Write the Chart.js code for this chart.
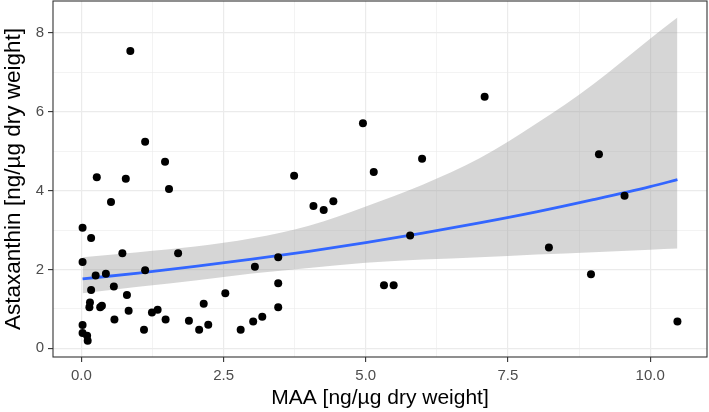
<!DOCTYPE html>
<html>
<head>
<meta charset="utf-8">
<script src="https://cdn.jsdelivr.net/npm/chart.js@4/dist/chart.umd.min.js"></script>
<style>
  html, body { margin: 0; padding: 0; background: #fff; }
  #wrap { width: 709px; height: 412px; }
</style>
</head>
<body>
<div id="wrap"><canvas id="grafico" width="709" height="412"></canvas></div>
<script>
// scatter points: MAA vs Astaxanthin
const maa = [0.02, 0.17, 0.02, 0.25, 0.43, 0.17, 0.15, 0.14, 0.33, 0.36,
             0.02, 0.02, 0.10, 0.11, 0.57, 0.58, 0.80, 0.83, 0.72, 0.52,
             0.27, 0.78, 0.86, 1.12, 1.47, 1.54, 1.70, 1.12, 1.24, 1.34,
             1.48, 1.10, 1.89, 2.07, 2.23, 2.15, 2.53, 2.80, 3.02, 3.18,
             3.05, 3.46, 3.46, 3.46, 3.74, 4.08, 4.26, 4.43, 4.95, 5.14,
             5.99, 5.78, 5.32, 5.49, 7.09, 8.22, 8.96, 9.10, 9.55, 10.48];
const astaxanthin = [3.06, 2.80, 2.19, 1.85, 1.89, 1.48, 1.16, 1.04, 1.04, 1.08,
                     0.59, 0.39, 0.32, 0.19, 1.57, 0.73, 1.35, 0.95, 2.41, 3.71,
                     4.34, 4.30, 7.54, 5.24, 4.73, 4.04, 2.41, 1.98, 0.91, 0.98,
                     0.73, 0.47, 0.70, 0.47, 0.60, 1.13, 1.40, 0.47, 0.68, 0.80,
                     2.07, 2.31, 1.65, 1.04, 4.38, 3.61, 3.51, 3.73, 5.71, 4.47,
                     4.81, 2.86, 1.60, 1.60, 6.38, 2.56, 1.88, 4.92, 3.87, 0.68];

// fitted curve and confidence band, read at these x positions
const fitX     = [0.02, 1, 2, 3, 4, 5, 6, 7, 8, 9, 10, 10.48];
const fitY     = [1.76, 1.91, 2.08, 2.26, 2.46, 2.68, 2.92, 3.18, 3.46, 3.77, 4.10, 4.28];
const bandLow  = [1.40, 1.56, 1.72, 1.90, 2.04, 2.17, 2.25, 2.31, 2.38, 2.44, 2.50, 2.53];
const bandHigh = [2.31, 2.44, 2.58, 2.79, 3.11, 3.60, 4.15, 4.82, 5.70, 6.70, 7.85, 8.39];

// axis ticks (major ones get labels)
const xTicks = [0, 1.25, 2.5, 3.75, 5, 6.25, 7.5, 8.75, 10];
const xMajor = [0, 2.5, 5, 7.5, 10];
const xLabels = ['0.0', '2.5', '5.0', '7.5', '10.0'];
const yTicks = [0, 1, 2, 3, 4, 5, 6, 7, 8];
const yMajor = [0, 2, 4, 6, 8];
const yLabels = ['0', '2', '4', '6', '8'];

const xy = (xs, ys) => xs.map((x, i) => ({ x: x, y: ys[i] }));

const FONT = "'Liberation Sans', Arial, sans-serif";

const panelBorder = {
    id: 'panelBorder',
    afterDraw(chart) {
        const a = chart.chartArea;
        const ctx = chart.ctx;
        ctx.save();
        ctx.strokeStyle = '#333333';
        ctx.lineWidth = 1.1;
        ctx.strokeRect(a.left, a.top, a.right - a.left, a.bottom - a.top);
        ctx.restore();
    }
};

function gridStyle(majors) {
    return {
        color: '#ebebeb',
        lineWidth: c => majors.includes(c.tick.value) ? 1.2 : 0.6,
        drawTicks: true,
        tickLength: 5,
        tickColor: c => majors.includes(c.tick.value) ? '#333333' : 'rgba(0,0,0,0)',
        tickWidth: 1.1
    };
}

function noPad(s) {
    s.paddingTop = 0;
    s.paddingBottom = 0;
    s.paddingLeft = 0;
    s.paddingRight = 0;
}

new Chart(document.getElementById('grafico').getContext('2d'), {
    type: 'scatter',
    data: {
        datasets: [
            {
                type: 'line',
                data: xy(fitX, bandLow),
                borderWidth: 0,
                borderColor: 'rgba(0,0,0,0)',
                pointRadius: 0,
                fill: false,
                cubicInterpolationMode: 'monotone',
                order: 4
            },
            {
                type: 'line',
                data: xy(fitX, bandHigh),
                borderWidth: 0,
                borderColor: 'rgba(0,0,0,0)',
                backgroundColor: 'rgba(153,153,153,0.4)',
                pointRadius: 0,
                fill: '-1',
                cubicInterpolationMode: 'monotone',
                order: 3
            },
            {
                type: 'line',
                data: xy(fitX, fitY),
                borderColor: '#3366FF',
                borderWidth: 2.8,
                pointRadius: 0,
                fill: false,
                cubicInterpolationMode: 'monotone',
                order: 2
            },
            {
                data: xy(maa, astaxanthin),
                backgroundColor: '#000000',
                borderWidth: 0,
                pointRadius: 4,
                order: 1
            }
        ]
    },
    options: {
        responsive: false,
        animation: false,
        layout: { autoPadding: false, padding: { top: 1, right: 2, bottom: 0, left: 0 } },
        plugins: { legend: { display: false }, tooltip: { enabled: false } },
        scales: {
            x: {
                type: 'linear',
                min: -0.5,
                max: 11.0,
                afterBuildTicks: s => { s.ticks = xTicks.map(v => ({ value: v })); },
                afterFit: s => { s.height = 55; noPad(s); },
                grid: gridStyle(xMajor),
                border: { display: false },
                ticks: {
                    autoSkip: false,
                    maxRotation: 0,
                    padding: 5,
                    color: '#4d4d4d',
                    font: { family: FONT, size: 15 },
                    callback: v => { const i = xMajor.indexOf(v); return i >= 0 ? xLabels[i] : ''; }
                },
                title: {
                    display: true,
                    text: 'MAA [ng/µg dry weight]',
                    color: '#000000',
                    font: { family: FONT, size: 21 },
                    padding: { top: 0, bottom: 1 }
                }
            },
            y: {
                type: 'linear',
                min: -0.22,
                max: 8.81,
                afterBuildTicks: s => { s.ticks = yTicks.map(v => ({ value: v })); },
                afterFit: s => { s.width = 53; noPad(s); },
                grid: gridStyle(yMajor),
                border: { display: false },
                ticks: {
                    autoSkip: false,
                    padding: 4,
                    color: '#4d4d4d',
                    font: { family: FONT, size: 15 },
                    callback: v => { const i = yMajor.indexOf(v); return i >= 0 ? yLabels[i] : ''; }
                },
                title: {
                    display: true,
                    text: 'Astaxanthin [ng/µg dry weight]',
                    color: '#000000',
                    font: { family: FONT, size: 22.5 },
                    padding: { top: 0, bottom: 0 }
                }
            }
        }
    },
    plugins: [panelBorder]
});
</script>
</body>
</html>
